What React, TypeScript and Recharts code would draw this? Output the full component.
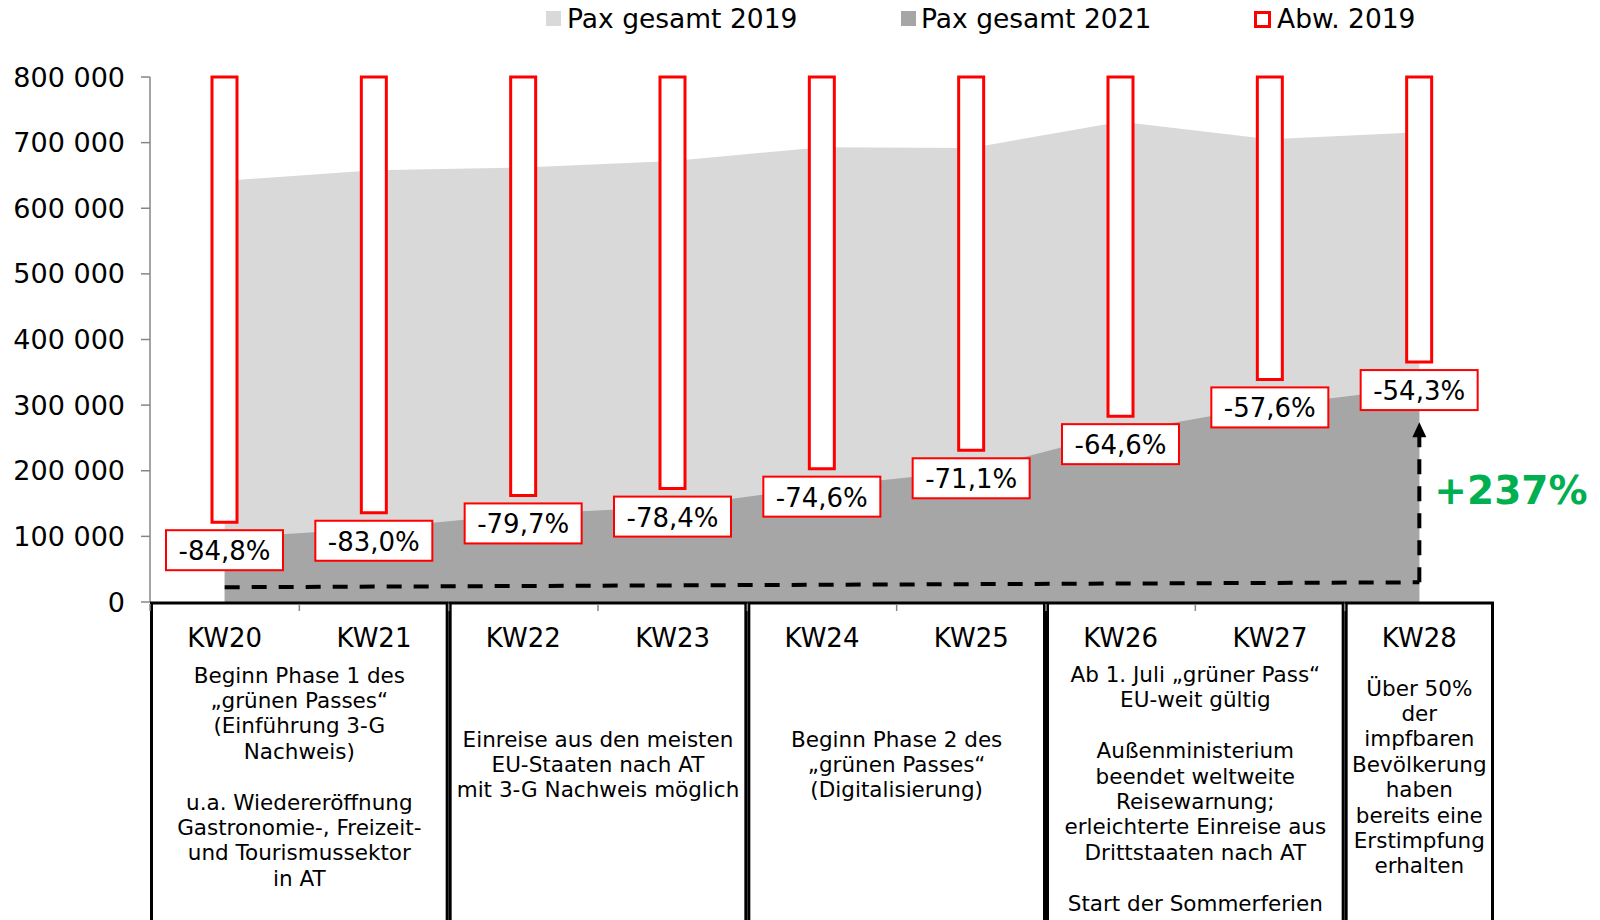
import { ComposedChart, Area, Bar, XAxis, YAxis, ReferenceLine, ReferenceDot } from 'recharts'

const weeks = ['KW20', 'KW21', 'KW22', 'KW23', 'KW24', 'KW25', 'KW26', 'KW27', 'KW28']
const pax2019 = [642000, 658000, 662000, 672000, 693000, 692000, 732000, 705000, 716000]
const pax2021 = [98000, 112000, 134000, 145000, 176000, 200000, 259000, 299000, 327000]
const abw2019 = [-84.8, -83.0, -79.7, -78.4, -74.6, -71.1, -64.6, -57.6, -54.3]
const yTicks = [0, 100000, 200000, 300000, 400000, 500000, 600000, 700000, 800000]
const growthLabel = '+237%'

// week groups below the axis and the notes for each
const noteGroups = [[0, 1], [2, 3], [4, 5], [6, 7], [8]]
const noteTexts = [
  ['Beginn Phase 1 des', '\u201egr\u00fcnen Passes\u201c', '(Einf\u00fchrung 3-G', 'Nachweis)', '', 'u.a. Wiederer\u00f6ffnung', 'Gastronomie-, Freizeit-', 'und Tourismussektor', 'in AT'],
  ['Einreise aus den meisten', 'EU-Staaten nach AT', 'mit 3-G Nachweis m\u00f6glich'],
  ['Beginn Phase 2 des', '\u201egr\u00fcnen Passes\u201c', '(Digitalisierung)'],
  ['Ab 1. Juli \u201egr\u00fcner Pass\u201c', 'EU-weit g\u00fcltig', '', 'Au\u00dfenministerium', 'beendet weltweite', 'Reisewarnung;', 'erleichterte Einreise aus', 'Drittstaaten nach AT', '', 'Start der Sommerferien'],
  ['\u00dcber 50%', 'der', 'impfbaren', 'Bev\u00f6lkerung', 'haben', 'bereits eine', 'Erstimpfung', 'erhalten'],
]

const data = weeks.map((week, i) => ({ week, p2019: pax2019[i], p2021: pax2021[i], abw: abw2019[i] }))

const FONT = '"DejaVu Sans", Verdana, sans-serif'
const PLOT_LEFT = 150
const PLOT_RIGHT = 1494
const PLOT_TOP = 77
const PLOT_BOTTOM = 602
const BAND = (PLOT_RIGHT - PLOT_LEFT) / weeks.length
const NOTE_TOP = [675, 739, 739, 674.5, 688]
const NOTE_LINE = 25.4

const fmtPax = (v: number) => (v === 0 ? '0' : `${Math.round(v / 1000)} 000`)
const fmtPct = (v: number) => `${v.toFixed(1).replace('.', ',')}%`

function WeekTick(props: any) {
  const { x, payload } = props
  const i = payload?.index ?? props.index
  const left = x - BAND / 2
  const g = noteGroups.findIndex(grp => grp[0] === i)
  let box = null
  if (g >= 0) {
    const w = BAND * noteGroups[g].length
    box = (
      <g>
        <rect x={left + 1.5} y={PLOT_BOTTOM + 1} width={w - 3} height={400} fill="none" stroke="#000" strokeWidth={3} />
        {noteTexts[g].map((line, k) => (
          <text key={k} x={left + w / 2} y={NOTE_TOP[g] + k * NOTE_LINE} textAnchor="middle" dominantBaseline="central" fontSize={21.5} fill="#000">
            {line}
          </text>
        ))}
      </g>
    )
  }
  return (
    <g>
      {box}
      <line x1={left} x2={left} y1={PLOT_BOTTOM + 2} y2={PLOT_BOTTOM + 9} stroke="#888" strokeWidth={1.5} />
      <text x={x} y={638} textAnchor="middle" dominantBaseline="central" fontSize={26} fill="#000">
        {payload.value}
      </text>
    </g>
  )
}

const renderAbwLabel = (props: any) => {
  const vb = props.viewBox || {}
  const x = props.x ?? vb.x
  const y = props.y ?? vb.y
  const width = props.width ?? vb.width
  const height = props.height ?? vb.height
  const bottom = Math.max(y, y + height)
  const cx = x + width / 2
  return (
    <g>
      <rect x={cx - 58.5} y={bottom + 8} width={117} height={40} fill="#fff" stroke="#FF0000" strokeWidth={2} />
      <text x={cx} y={bottom + 29} textAnchor="middle" dominantBaseline="central" fontSize={26} fill="#000">
        {fmtPct(Number(props.value))}
      </text>
    </g>
  )
}

function LegendItem({ left, textLeft, label, swatch }: { left: number; textLeft: number; label: string; swatch: any }) {
  return (
    <>
      <div style={{ position: 'absolute', left, top: 11, ...swatch }} />
      <div style={{ position: 'absolute', left: textLeft, top: 2, fontSize: 26.5, lineHeight: '34px', color: '#000' }}>{label}</div>
    </>
  )
}

export default function App() {
  return (
    <div style={{ position: 'relative', width: 1600, height: 920, overflow: 'hidden', fontFamily: FONT, background: '#fff' }}>
      <style>{'body{margin:0;overflow:hidden}'}</style>
      <ComposedChart width={1600} height={920} data={data} margin={{ top: PLOT_TOP, right: 1600 - PLOT_RIGHT, left: 0, bottom: 0 }}>
        <XAxis dataKey="week" height={920 - PLOT_BOTTOM} axisLine={false} tickLine={false} interval={0} tick={<WeekTick />} />
        <YAxis
          yAxisId="pax"
          width={PLOT_LEFT}
          domain={[0, 800000]}
          ticks={yTicks}
          tickFormatter={fmtPax}
          axisLine={{ stroke: '#868686', strokeWidth: 1.5 }}
          tickLine={{ stroke: '#868686', strokeWidth: 1.5 }}
          tickSize={9}
          tickMargin={16}
          tick={{ fontSize: 27, fill: '#000', fontFamily: FONT }}
        />
        <YAxis yAxisId="pct" hide domain={[-100, 0]} />
        <Area yAxisId="pax" dataKey="p2019" type="linear" fill="#D9D9D9" fillOpacity={1} stroke="none" isAnimationActive={false} />
        <Area yAxisId="pax" dataKey="p2021" type="linear" fill="#A6A6A6" fillOpacity={1} stroke="none" isAnimationActive={false} />
        <ReferenceLine
          yAxisId="pax"
          segment={[{ x: 'KW20', y: 22500 }, { x: 'KW28', y: 30000 }]}
          stroke="#000"
          strokeWidth={4}
          strokeDasharray="15 12"
        />
        <ReferenceLine
          yAxisId="pax"
          segment={[{ x: 'KW28', y: 30000 }, { x: 'KW28', y: 255000 }]}
          stroke="#000"
          strokeWidth={4}
          strokeDasharray="15 12"
        />
        <ReferenceDot
          yAxisId="pax"
          x="KW28"
          y={274000}
          r={6}
          shape={(p: any) => (
            <polygon points={`${p.cx},${p.cy} ${p.cx - 7},${p.cy + 15} ${p.cx + 7},${p.cy + 15}`} fill="#000" />
          )}
        />
        <ReferenceDot
          yAxisId="pax"
          x="KW28"
          y={170000}
          r={1}
          shape={(p: any) => (
            <text x={p.cx + 15} y={p.cy} dominantBaseline="central" fontSize={39} fontWeight="bold" fill="#00B050">
              {growthLabel}
            </text>
          )}
        />
        <Bar
          yAxisId="pct"
          dataKey="abw"
          barSize={25}
          fill="#fff"
          stroke="#FF0000"
          strokeWidth={3}
          isAnimationActive={false}
          label={renderAbwLabel}
        />
      </ComposedChart>
      <LegendItem left={546} textLeft={567} label="Pax gesamt 2019" swatch={{ width: 15, height: 15, background: '#D9D9D9' }} />
      <LegendItem left={901} textLeft={921} label="Pax gesamt 2021" swatch={{ width: 15, height: 15, background: '#A6A6A6' }} />
      <LegendItem left={1254} textLeft={1277} label="Abw. 2019" swatch={{ width: 11, height: 11, border: '3px solid #FF0000', background: '#fff' }} />
    </div>
  )
}
